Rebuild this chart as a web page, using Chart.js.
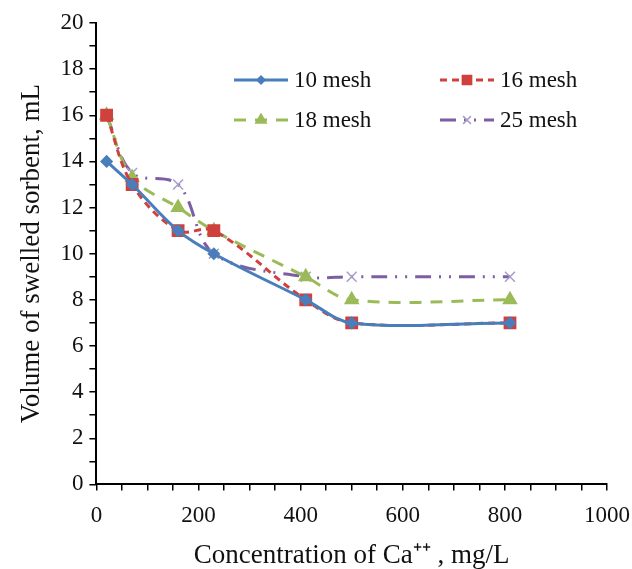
<!DOCTYPE html>
<html>
<head>
<meta charset="utf-8">
<script src="https://cdn.jsdelivr.net/npm/chart.js@4"></script>
<style>
  html, body { margin: 0; padding: 0; background: #fff; }
  #wrap { width: 632px; height: 569px; }
</style>
</head>
<body>
<div id="wrap"><canvas id="chart" width="632" height="569"></canvas></div>
<script>
// Konzentration Ca++ (mg/L)
const konzentration = [20, 70, 160, 230, 410, 500, 810];

const mesh10 = [14, 13, 11, 10, 8, 7, 7];
const mesh16 = [16, 13, 11, 11, 8, 7, 7];
const mesh18 = [16, 13.3, 12, 11, 9, 8, 8];
const mesh25 = [16, 13.5, 13, 10, 9, 9, 9];

const serienNamen = ["10 mesh", "16 mesh", "18 mesh", "25 mesh"];
const xTickLabels = [0, 200, 400, 600, 800, 1000];
const yTickLabels = [0, 2, 4, 6, 8, 10, 12, 14, 16, 18, 20];

const punkte = (werte) => werte.map((v, i) => ({ x: konzentration[i], y: v }));

const FONT = "'Liberation Serif', 'Times New Roman', serif";

const stile = [
  { color: "#4a7ebb", dash: [], point: "rectRot", radius: 5.5, pointColor: "#4a7ebb" },
  { color: "#d0403c", dash: [7, 5], point: "rect", radius: 8, pointColor: "#d0403c" },
  { color: "#9bbb59", dash: [12, 9], point: "triangle", radius: 7.5, pointColor: "#9bbb59" },
  { color: "#7d5ea3", dash: [16, 8, 2, 8, 2, 8], point: "crossRot", radius: 7, pointColor: "#a99cc8" }
];

const datenReihen = [mesh10, mesh16, mesh18, mesh25];

// legend drawn inside plot area
const legendePlugin = {
  id: "legende",
  afterDraw(chart) {
    const ctx = chart.ctx;
    const pos = [
      { x: 234, y: 80 }, { x: 440, y: 80 },
      { x: 234, y: 120 }, { x: 440, y: 120 }
    ];
    ctx.save();
    serienNamen.forEach((name, i) => {
      const s = stile[i];
      const p = pos[i];
      ctx.strokeStyle = s.color;
      ctx.lineWidth = 3;
      ctx.setLineDash(s.dash);
      ctx.beginPath();
      ctx.moveTo(p.x, p.y);
      ctx.lineTo(p.x + 54, p.y);
      ctx.stroke();
      ctx.setLineDash([]);
      ctx.fillStyle = s.pointColor;
      ctx.strokeStyle = s.pointColor;
      ctx.lineWidth = 1.5;
      Chart.helpers.drawPoint(ctx, { pointStyle: s.point, radius: s.radius - 1.5, rotation: 0, borderWidth: 1.5 }, p.x + 27, p.y);
      ctx.fillStyle = "#111";
      ctx.font = "23px " + FONT;
      ctx.textBaseline = "middle";
      ctx.fillText(name, p.x + 60, p.y + 1);
    });
    ctx.restore();
  }
};

new Chart(document.getElementById("chart"), {
  type: "line",
  data: {
    datasets: datenReihen.map((werte, i) => ({
      label: serienNamen[i],
      data: punkte(werte),
      borderColor: stile[i].color,
      backgroundColor: stile[i].pointColor,
      pointBorderColor: stile[i].pointColor,
      borderWidth: 3,
      borderDash: stile[i].dash,
      pointStyle: stile[i].point,
      pointRadius: stile[i].radius,
      pointBorderWidth: 1.5,
      tension: 0.35,
      fill: false
    }))
  },
  options: {
    responsive: false,
    animation: false,
    layout: { padding: { left: 16, right: 0, top: 23, bottom: 0 } },
    plugins: { legend: { display: false }, tooltip: { enabled: false } },
    scales: {
      x: {
        type: "linear",
        min: 0,
        max: 1000,
        afterFit: (s) => { s.paddingRight = 25; },
        border: { display: true, color: "#000", width: 2 },
        grid: { drawOnChartArea: false, drawTicks: true, tickLength: 6, color: "#000", lineWidth: 1.5 },
        ticks: {
          stepSize: 50,
          autoSkip: false,
          maxRotation: 0,
          color: "#111",
          font: { family: FONT, size: 23 },
          padding: 12,
          callback: (v) => xTickLabels.includes(v) ? String(v) : ""
        },
        title: {
          display: true,
          text: "Concentration of Ca\u207A\u207A , mg/L",
          color: "#111",
          font: { family: FONT, size: 27, lineHeight: 1.0 },
          padding: { top: 0, bottom: 0 }
        }
      },
      y: {
        min: 0,
        max: 20,
        border: { display: true, color: "#000", width: 2 },
        grid: { drawOnChartArea: false, drawTicks: true, tickLength: 7, color: "#000", lineWidth: 1.5 },
        ticks: {
          stepSize: 1,
          autoSkip: false,
          color: "#111",
          font: { family: FONT, size: 23 },
          padding: 6,
          callback: (v) => yTickLabels.includes(v) ? String(v) : ""
        },
        title: {
          display: true,
          text: "Volume of swelled sorbent, mL",
          color: "#111",
          font: { family: FONT, size: 27 },
          padding: { top: 0, bottom: 6 }
        }
      }
    }
  },
  plugins: [legendePlugin]
});
</script>
</body>
</html>
